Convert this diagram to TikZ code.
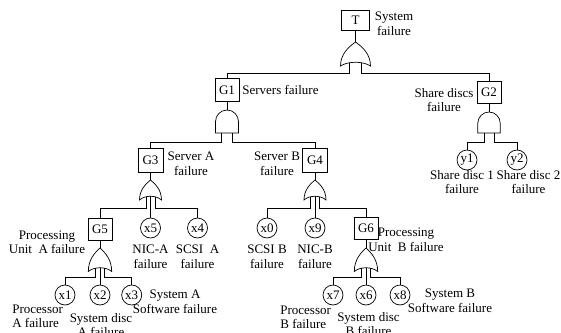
\documentclass[tikz,border=0pt]{standalone}
\usepackage{fontspec}
\setmainfont{Liberation Serif}
\usepackage{tikz}

\tikzset{
  gatebox/.style={draw, minimum width=24pt, minimum height=22pt, inner sep=0pt},
  basic/.style={draw, circle, minimum size=20pt, inner sep=0pt},
  lbl/.style={align=center, inner sep=0pt},
  % OR gate: #1 = half width, #2 = height (top point at the pic origin)
  pics/orgate/.style 2 args={code={
    \draw (0,0) .. controls (-0.45*#1,0.2*#2) and (-#1,0.5*#2) .. (-#1,#2)
      .. controls (-0.5*#1,#2-5) and (0.5*#1,#2-5) .. (#1,#2)
      .. controls (#1,0.5*#2) and (0.45*#1,0.2*#2) .. cycle;
    \coordinate (-out) at (0,0);
    \coordinate (-l) at (-0.4*#1,#2-3.2);
    \coordinate (-m) at (0,#2-3.75);
    \coordinate (-r) at (0.4*#1,#2-3.2);
  }},
  % AND gate: #1 = half width, #2 = height
  pics/andgate/.style 2 args={code={
    \draw (-#1,#2) -- (-#1,#1) .. controls (-#1,0.45*#1) and (-0.55*#1,0) .. (0,0)
      .. controls (0.55*#1,0) and (#1,0.45*#1) .. (#1,#1) -- (#1,#2) -- cycle;
    \coordinate (-out) at (0,0);
    \coordinate (-l) at (-0.45*#1,#2);
    \coordinate (-r) at (0.45*#1,#2);
  }},
}

\begin{document}
\begin{tikzpicture}[x=1pt, y=-1pt, line width=0.7pt,
  every node/.style={font=\fontsize{13}{14.5}\selectfont}]

  \useasboundingbox (0,0) rectangle (561,332);

  % ── Top event ────────────────────────────────────────────────
  \node[gatebox, minimum width=28pt, minimum height=20pt] (T) at (355.5,20) {T};
  \node[lbl] (Tlbl) at (394,24) {System\\failure};
  \pic (g0) at (355.5,42) {orgate={15}{24}};

  % ── Second level ─────────────────────────────────────────────
  \node[gatebox, minimum height=23pt] (G1) at (227,90) {G1};
  \node[lbl, anchor=west] (G1lbl) at (242,90) {Servers failure};
  \node[gatebox] (G2) at (489,92.5) {G2};
  \node[lbl] (G2lbl) at (444,100) {Share discs\\failure};
  \pic (g1) at (227,110) {andgate={11.5}{23}};
  \pic (g2) at (489,112) {andgate={11.2}{21}};

  % ── Servers A / B ────────────────────────────────────────────
  \node[gatebox, minimum width=25pt, minimum height=24pt] (G3) at (150.5,160) {G3};
  \node[lbl] (G3lbl) at (191,164) {Server A\\failure};
  \node[gatebox, minimum width=25pt, minimum height=24pt] (G4) at (315,160) {G4};
  \node[lbl] (G4lbl) at (277,164) {Server B\\failure};
  \pic (g3) at (150.5,180) {orgate={11}{20}};
  \pic (g4) at (315,180) {orgate={11}{20}};

  % ── Share discs ──────────────────────────────────────────────
  \node[basic] (y1) at (467,160) {y1};
  \node[lbl] (y1lbl) at (462,182) {Share disc 1\\failure};
  \node[basic] (y2) at (517,160) {y2};
  \node[lbl] (y2lbl) at (528.5,182) {Share disc 2\\failure};

  % ── Third level ──────────────────────────────────────────────
  \node[gatebox] (G5) at (100,229) {G5};
  \node[lbl] (G5lbl) at (47,242.5) {Processing\\Unit~ A failure};
  \node[basic] (x5) at (150.5,228) {x5};
  \node[lbl] (x5lbl) at (150.5,257) {NIC-A\\failure};
  \node[basic] (x4) at (197.5,228) {x4};
  \node[lbl] (x4lbl) at (197.5,257) {SCSI~ A\\failure};
  \node[basic] (x0) at (267,228) {x0};
  \node[lbl] (x0lbl) at (267,257) {SCSI B\\failure};
  \node[basic] (x9) at (315,228) {x9};
  \node[lbl] (x9lbl) at (315,257) {NIC-B\\failure};
  \node[gatebox] (G6) at (366,228) {G6};
  \node[lbl] (G6lbl) at (406,240) {Processing\\Unit~ B failure};
  \pic (g5) at (100,248) {orgate={11.7}{23.5}};
  \pic (g6) at (366,248) {orgate={11.7}{23.5}};

  % ── Basic events of the processing units ─────────────────────
  \node[basic] (x1) at (65,295) {x1};
  \node[lbl, align=left, anchor=west] (x1lbl) at (12,316.5) {Processor\\ A failure};
  \node[basic] (x2) at (100,295) {x2};
  \node[lbl] (x2lbl) at (101,325) {System disc\\A failure};
  \node[basic] (x3) at (131.7,295) {x3};
  \node[lbl] (x3lbl) at (175,302) {System A\\Software failure};
  \node[basic] (x7) at (333,295) {x7};
  \node[lbl, align=left, anchor=west] (x7lbl) at (280,317.5) {Processor\\ B failure};
  \node[basic] (x6) at (366,295) {x6};
  \node[lbl] (x6lbl) at (368.5,324) {System disc\\B failure};
  \node[basic] (x8) at (400,295) {x8};
  \node[lbl] (x8lbl) at (450,301) {System B\\Software failure};

  % ── Connectors ───────────────────────────────────────────────
  \draw (T) -- (g0-out);
  \draw (g0-l) -- ++(0,11) -| (G1);
  \draw (g0-r) -- ++(0,11) -| (G2);

  \draw (G1) -- (g1-out);
  \draw (g1-l) -- ++(0,9) -| (G3);
  \draw (g1-r) -- ++(0,9) -| (G4);

  \draw (G2) -- (g2-out);
  \draw (g2-l) -- ++(0,9) -| (y1);
  \draw (g2-r) -- ++(0,9) -| (y2);

  \draw (G3) -- (g3-out);
  \draw (g3-l) -- ++(0,12) -| (G5);
  \draw (g3-m) -- (x5);
  \draw (g3-r) -- ++(0,12) -| (x4);

  \draw (G4) -- (g4-out);
  \draw (g4-l) -- ++(0,12) -| (x0);
  \draw (g4-m) -- (x9);
  \draw (g4-r) -- ++(0,12) -| (G6);

  \draw (G5) -- (g5-out);
  \draw (g5-l) -- ++(0,8.7) -| (x1);
  \draw (g5-m) -- (x2);
  \draw (g5-r) -- ++(0,8.7) -| (x3);

  \draw (G6) -- (g6-out);
  \draw (g6-l) -- ++(0,8.7) -| (x7);
  \draw (g6-m) -- (x6);
  \draw (g6-r) -- ++(0,8.7) -| (x8);

\end{tikzpicture}
\end{document}
